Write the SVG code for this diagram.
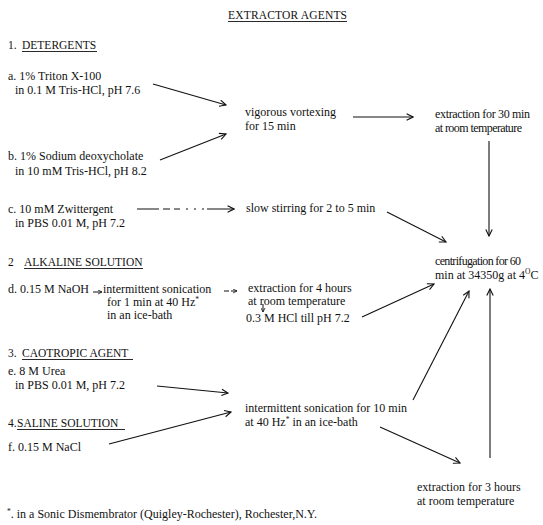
<svg xmlns="http://www.w3.org/2000/svg" width="543" height="525" viewBox="0 0 543 525">
<style>
.t{font-family:"Liberation Serif","Times New Roman","DejaVu Serif",serif;font-size:12px;fill:#111}
.h{font-family:"Liberation Serif","Times New Roman","DejaVu Serif",serif;font-size:11.5px;fill:#111}
.sup{font-size:7.5px}
.ul{stroke:#111;stroke-width:0.9}
.c{stroke:#111;stroke-width:1.1;fill:none;marker-end:url(#ah)}
.cs{stroke:#111;stroke-width:1;fill:none;marker-end:url(#ahs)}
</style>
<defs>
<marker id="ah" viewBox="0 0 10 10" refX="9" refY="5" markerWidth="8" markerHeight="8" markerUnits="userSpaceOnUse" orient="auto"><path d="M1,1 L9,5 L1,9" fill="none" stroke="#111" stroke-width="1.4"/></marker>
<marker id="ahs" viewBox="0 0 10 10" refX="9" refY="5" markerWidth="5" markerHeight="5" markerUnits="userSpaceOnUse" orient="auto"><path d="M1,1 L9,5 L1,9" fill="none" stroke="#111" stroke-width="1.6"/></marker>
</defs>
<rect width="543" height="525" fill="#fff"/>

<g id="title">
<text class="h" x="228" y="19" textLength="119">EXTRACTOR AGENTS</text>
<line class="ul" x1="228" y1="21.5" x2="347" y2="21.5"/>
</g>

<g id="sec1">
<text class="h" x="8" y="49">1.<tspan x="22">DETERGENTS</tspan></text>
<line class="ul" x1="22" y1="51.5" x2="97" y2="51.5"/>
</g>
<g id="nodeA">
<text class="t" x="8" y="80">a. 1% Triton X-100</text>
<text class="t" x="15" y="94">in 0.1 M Tris-HCl, pH 7.6</text>
</g>
<g id="nodeB">
<text class="t" x="8" y="160">b. 1% Sodium deoxycholate</text>
<text class="t" x="15" y="175">in 10 mM Tris-HCl, pH 8.2</text>
</g>
<g id="vortex">
<text class="t" x="245" y="116">vigorous vortexing</text>
<text class="t" x="245" y="130">for 15 min</text>
</g>
<g id="extr30">
<text class="t" x="435" y="118" textLength="95">extraction for 30 min</text>
<text class="t" x="435" y="132" textLength="87">at room temperature</text>
</g>
<g id="nodeC">
<text class="t" x="8" y="213">c. 10 mM Zwittergent</text>
<text class="t" x="15" y="227">in PBS 0.01 M, pH 7.2</text>
</g>
<g id="stir">
<text class="t" x="246" y="212">slow stirring for 2 to 5 min</text>
</g>
<g id="centrif">
<text class="t" x="435" y="265" textLength="86">centrifugation for 60</text>
<text class="t" x="435" y="279">min at 34350g at 4<tspan class="sup" dy="-5">O</tspan><tspan dy="5">C</tspan></text>
</g>

<g id="sec2">
<text class="h" x="8" y="266">2<tspan x="24">ALKALINE SOLUTION</tspan></text>
<line class="ul" x1="24" y1="268.5" x2="143" y2="268.5"/>
</g>
<g id="nodeD">
<text class="t" x="8" y="293">d. 0.15 M NaOH</text>
</g>
<g id="sonic1">
<text class="t" x="103" y="293">intermittent sonication</text>
<text class="t" x="107" y="306">for 1 min at 40 Hz<tspan class="sup" dy="-4">*</tspan></text>
<text class="t" x="107" y="319">in an ice-bath</text>
</g>
<g id="extr4">
<text class="t" x="248" y="292">extraction for 4 hours</text>
<text class="t" x="248" y="305">at room temperature</text>
</g>
<g id="hcl">
<text class="t" x="246" y="322">0.3 M HCl till pH 7.2</text>
</g>

<g id="sec3">
<text class="h" x="8" y="357">3.<tspan x="22">CAOTROPIC AGENT</tspan></text>
<line class="ul" x1="22" y1="359.5" x2="133" y2="359.5"/>
</g>
<g id="nodeE">
<text class="t" x="8" y="375">e. 8 M Urea</text>
<text class="t" x="15" y="389">in PBS 0.01 M, pH 7.2</text>
</g>
<g id="sec4">
<text class="h" x="8" y="427">4.<tspan x="17">SALINE SOLUTION</tspan></text>
<line class="ul" x1="17" y1="429.5" x2="125" y2="429.5"/>
</g>
<g id="nodeF">
<text class="t" x="8" y="451">f. 0.15 M NaCl</text>
</g>
<g id="sonic10">
<text class="t" x="245" y="412">intermittent sonication for 10 min</text>
<text class="t" x="245" y="426">at 40 Hz<tspan class="sup" dy="-4">*</tspan><tspan dy="4"> in an ice-bath</tspan></text>
</g>
<g id="extr3">
<text class="t" x="417" y="491">extraction for 3 hours</text>
<text class="t" x="417" y="505">at room temperature</text>
</g>

<g id="footnote">
<text class="t" x="7" y="518"><tspan class="sup" dy="-4">*</tspan><tspan dy="4">. in a Sonic Dismembrator (Quigley-Rochester), Rochester,N.Y.</tspan></text>
</g>

<g id="connectors">
<line class="c" x1="153" y1="84" x2="226" y2="105"/>
<line class="c" x1="160" y1="160" x2="226" y2="134"/>
<line class="c" x1="353" y1="117" x2="413" y2="117"/>
<line class="c" x1="489" y1="141" x2="489" y2="236"/>
<line class="c" x1="137" y1="209" x2="234" y2="209" stroke-dasharray="22 4 7 4 6 6 2 6 2 6 2 3 40"/>
<line class="c" x1="387" y1="212" x2="446" y2="242"/>
<line class="cs" x1="93" y1="292" x2="102" y2="292"/>
<line class="cs" x1="224" y1="291" x2="237" y2="291" stroke-dasharray="5 2 10"/>
<line class="cs" x1="263" y1="304" x2="263" y2="312"/>
<line class="c" x1="362" y1="317" x2="434" y2="284"/>
<line class="c" x1="157" y1="386" x2="228" y2="393"/>
<line class="c" x1="109" y1="444" x2="231" y2="412"/>
<line class="c" x1="380" y1="427" x2="460" y2="463"/>
<line class="c" x1="413" y1="400" x2="469" y2="291"/>
<line class="c" x1="490" y1="458" x2="490" y2="289"/>
</g>
</svg>
